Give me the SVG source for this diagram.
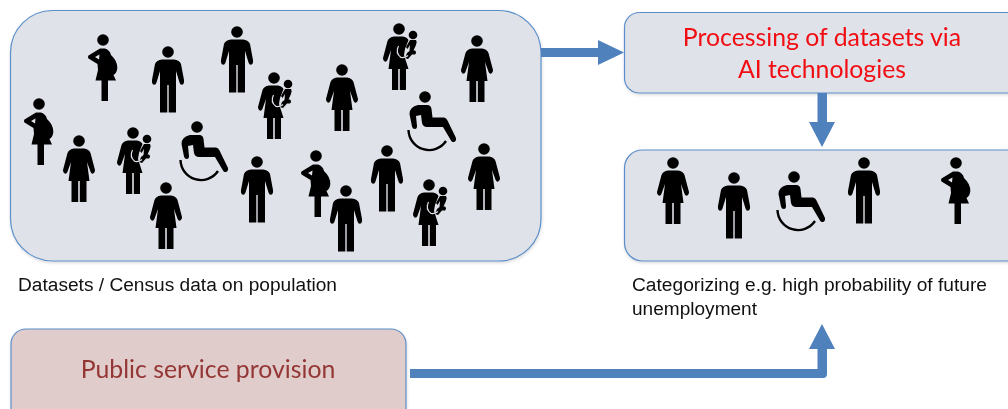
<svg xmlns="http://www.w3.org/2000/svg" width="1008" height="409" viewBox="0 0 1008 409">
<style>
.box{fill:#dfe2e9;stroke:#5b8ec9;stroke-width:1.2}
.pub{fill:#e0cccb;stroke:#5b8ec9;stroke-width:1.2}
.cap{font-family:"Liberation Sans",Arial,sans-serif;font-size:17.6px;fill:#111}
.ttl{font-family:Lato,"Open Sans",sans-serif;font-size:24.8px;text-anchor:middle}
.red{fill:#f20d12}.brown{fill:#943634}
.icons{filter:url(#soft)}
.conn{fill:#4f81bd;stroke:none}
</style>
<defs>
<filter id="soft" x="-5%" y="-5%" width="110%" height="110%"><feGaussianBlur stdDeviation="0.5"/></filter>
<filter id="sh" x="-5%" y="-5%" width="110%" height="110%"><feDropShadow dx="0.5" dy="1.5" stdDeviation="1.5" flood-color="#000" flood-opacity="0.15"/></filter>
<g id="man">
<circle cx="0" cy="0" r="5.800"/>
<path d="M-6 7.500H6Q11.500 8 13 12L16 28Q16.500 32 14 32.800Q12.300 33 11.500 30.500L8 19V60.500H0.700V33H-0.700V60.500H-8V19L-11.500 30.500Q-12.300 33 -14 32.800Q-16.500 32 -16 28L-13 12Q-11.500 8 -6 7.500Z"/>
</g>
<g id="woman">
<circle cx="0" cy="0" r="5.800"/>
<path d="M-5 7.500H5Q10 8 11.500 12L16 29Q16.300 32 14 32.800Q12.300 33 11.500 30.800L8 21L10.500 40H7.500V61H0.800V40H-0.800V61H-7.500V40H-10.500L-8 21L-11.500 30.800Q-12.300 33 -14 32.800Q-16.300 32 -16 29L-11.500 12Q-10 8 -5 7.500Z"/>
</g>
<g id="preg">
<circle cx="0" cy="0" r="5.800"/>
<path d="M-3 8.500H2Q7 10 8 15Q14.500 21 14.300 28Q14 33 10.500 35L13 40.500H5V61H-1.500V40.500H-7.500L-5 30L-5.500 24L-14.500 18.500Q-15.500 17 -14.500 15.500ZM-3.500 14.500L-8 17L-4 19.500Z" fill-rule="evenodd"/>
</g>
<g id="carry">
<circle cx="0" cy="0" r="5.800"/>
<circle cx="14" cy="6" r="4.300"/>
<path d="M-5 7.500H4Q8 8 9.500 11L6 20L5 26L9.500 40H7V61H0.800V40H-0.800V61H-7V40H-10.500L-8 21L-11.500 30.800Q-12.300 33 -14 32.800Q-16.300 32 -16 29L-11.500 12Q-10 8 -5 7.500Z"/>
<path d="M11 11H17Q18.500 13 17 16L14.500 21.500H16Q18 23.500 16 25.500H13L9 30L6 29L8 24L10.500 22L11 16L8.500 20L7 18Z"/>
<path d="M-0.500 17Q-4 24 2 28.500Q6 29 9 26.500" fill="none" stroke="#dfe2e9" stroke-width="1.200"/>
</g>
<g id="wheel">
<circle cx="0" cy="0" r="5.800"/>
<path d="M-7 8H3Q6 8.500 6.500 12L7.500 20.500H19Q21.500 21 22.500 23.500L31 41Q31.500 44 29 45Q27 45.500 26 43.500L18 30H2Q-2 30 -3 26L-4 18L-9 19L-8 29Q-8 32 -10 32Q-12.500 32 -13 29.500L-15.500 17Q-15.500 10 -7 8Z"/>
<path d="M-16.500 33A20.500 20.500 0 0 0 21 44" fill="none" stroke="#000" stroke-width="2.400"/>
</g>
</defs>
<g id="datasets" filter="url(#sh)"><rect class="box" x="10.500" y="10.500" width="530.500" height="250.500" rx="42"/></g>
<g id="processing" filter="url(#sh)"><rect class="box" x="624.500" y="12.500" width="400" height="80.500" rx="15"/></g>
<g id="categories" filter="url(#sh)"><rect class="box" x="624.500" y="150" width="400" height="111" rx="18"/></g>
<g id="public" filter="url(#sh)"><rect class="pub" x="11" y="329" width="395" height="100" rx="15"/></g>
<g id="people" class="icons">
<use href="#man" x="237" y="32"/>
<use href="#man" x="168" y="52"/>
<use href="#man" x="257" y="162"/>
<use href="#man" x="387" y="151"/>
<use href="#man" x="346" y="191"/>
<use href="#woman" x="79" y="141"/>
<use href="#woman" x="166" y="188"/>
<use href="#woman" x="342" y="70"/>
<use href="#woman" x="477" y="41"/>
<use href="#woman" x="484" y="149"/>
<use href="#preg" x="103" y="40"/>
<use href="#preg" x="39" y="104"/>
<use href="#preg" x="316" y="156"/>
<use href="#carry" x="133" y="133"/>
<use href="#carry" x="274" y="78"/>
<use href="#carry" x="399" y="29"/>
<use href="#carry" x="429" y="185"/>
<use href="#wheel" x="197" y="127"/>
<use href="#wheel" x="425" y="97"/>
<use href="#woman" x="673" y="163"/>
<use href="#man" x="734" y="178"/>
<use href="#wheel" x="794" y="177"/>
<use href="#man" x="864" y="163"/>
<use href="#preg" x="956" y="163"/>
</g>
<g id="connectors" class="conn">
<path d="M541 48H598V40L624 52.500L598 65V57H541Z"/>
<path d="M817.500 93H827V122H835L822 147L809 122H817.500Z"/>
<path d="M410 369H817.500V349H809L822 324L835 349H827V374Q827 378 823 378H410Z"/>
</g>
<g id="labels">
<text class="ttl red" x="822" y="46">Processing of datasets via</text>
<text class="ttl red" x="822" y="78">AI technologies</text>
<text class="ttl brown" x="208" y="378">Public service provision</text>
<text class="cap" x="18" y="291" textLength="319" lengthAdjust="spacingAndGlyphs">Datasets / Census data on population</text>
<text class="cap" x="632" y="291" textLength="355" lengthAdjust="spacingAndGlyphs">Categorizing e.g. high probability of future</text>
<text class="cap" x="632" y="315" textLength="125" lengthAdjust="spacingAndGlyphs">unemployment</text>
</g>
</svg>
